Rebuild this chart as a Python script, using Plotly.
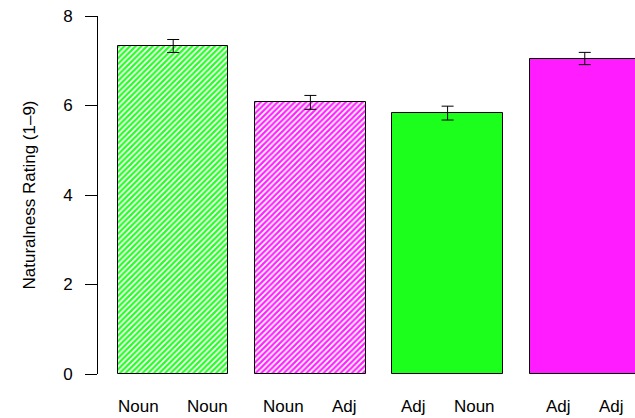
import plotly.graph_objects as go

# Data
first_words = ["Noun", "Noun", "Adj", "Adj"]
second_words = ["Noun", "Adj", "Noun", "Adj"]
ratings = [7.33, 6.07, 5.83, 7.05]
errors = [0.145, 0.155, 0.155, 0.137]
ytick_vals = [0, 2, 4, 6, 8]

# Styles
fill_colors = ["#ffffff", "#ffffff", "#1cff1c", "#ff1cff"]
hatch_colors = ["#22ff22", "#ff22ff", "#1cff1c", "#ff1cff"]
hatch_shapes = ["/", "/", "", ""]

FONT = "Liberation Sans, Arial, Helvetica, sans-serif"
FS = 17

fig = go.Figure()
for i in range(len(ratings)):
    fig.add_trace(go.Bar(
        x=[i],
        y=[ratings[i]],
        width=0.805,
        marker=dict(
            color=fill_colors[i],
            line=dict(color="black", width=1),
            pattern=dict(shape=hatch_shapes[i], fgcolor=hatch_colors[i],
                         bgcolor=fill_colors[i], fillmode="replace",
                         size=4, solidity=0.55),
        ),
        error_y=dict(type="data", array=[errors[i]], visible=True, color="black",
                     thickness=1, width=6),
        showlegend=False,
    ))

nb = "\u00a0" * 6
for i, (a, b) in enumerate(zip(first_words, second_words)):
    fig.add_annotation(
        x=i, xref="x", y=0, yref="paper",
        text=f"{a}{nb}{b}", showarrow=False,
        xanchor="center", yanchor="middle", yshift=-32,
        font=dict(family=FONT, size=FS, color="black"),
    )

fig.add_annotation(
    x=-0.1276, xref="paper", y=0.5, yref="paper",
    text="Naturalness Rating (1\u20139)", textangle=-90, showarrow=False,
    xanchor="center", yanchor="middle",
    font=dict(family=FONT, size=FS, color="black"),
)

fig.update_layout(
    width=635, height=418,
    margin=dict(l=98, r=0, t=15.5, b=43.5, pad=0, autoexpand=False),
    paper_bgcolor="white", plot_bgcolor="white",
    font=dict(family=FONT, size=FS, color="black"),
    barmode="overlay",
    xaxis=dict(range=[-0.548, 3.366], showline=False, showgrid=False,
               zeroline=False, showticklabels=False, ticks=""),
    yaxis=dict(range=[0, 8], tickvals=ytick_vals, showline=True, linecolor="black",
               linewidth=1, ticks="outside", ticklen=12, tickcolor="black",
               tickwidth=1, showgrid=False, zeroline=False,
               ticklabelstandoff=9,
               tickfont=dict(family=FONT, size=FS, color="black")),
    bargap=0,
)

fig.write_html("out.html",
               config={"displayModeBar": False},
               post_script="document.body.style.margin='0';document.body.style.overflow='hidden';")
